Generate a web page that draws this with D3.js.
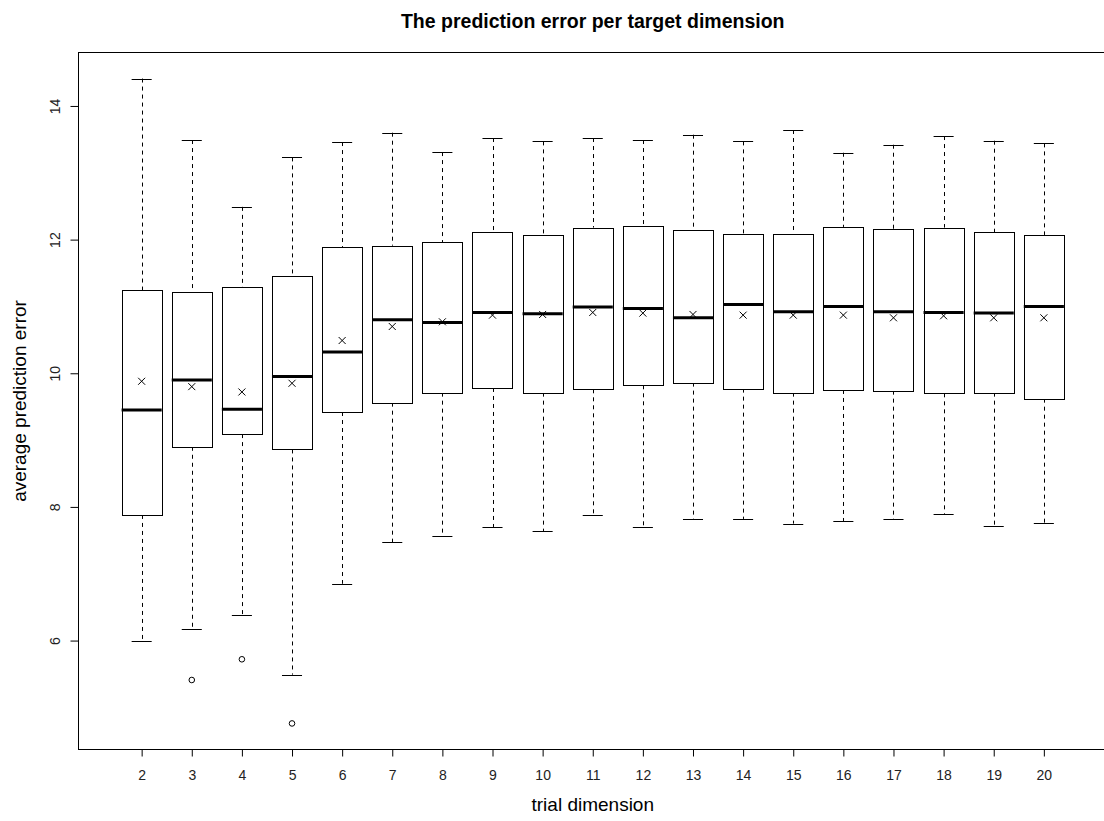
<!DOCTYPE html>
<html>
<head>
<meta charset="utf-8">
<title>The prediction error per target dimension</title>
<script src="https://cdn.jsdelivr.net/npm/d3@7"></script>
<style>
    body { margin: 0; background: #fff; }
    text { font-family: "Liberation Sans", Arial, sans-serif; }
</style>
</head>
<body>
<svg id="chart"></svg>
<script>
'use strict';

var dims = [2, 3, 4, 5, 6, 7, 8, 9, 10, 11, 12, 13, 14, 15, 16, 17, 18, 19, 20];
var upperWhisker = [14.41, 13.49, 12.49, 13.23, 13.46, 13.60, 13.31, 13.52, 13.47, 13.52,
                    13.49, 13.57, 13.47, 13.64, 13.30, 13.42, 13.55, 13.48, 13.44];
var q3 = [11.24, 11.21, 11.29, 11.46, 11.89, 11.91, 11.96, 12.11, 12.07, 12.18,
          12.21, 12.14, 12.09, 12.09, 12.19, 12.16, 12.18, 12.11, 12.07];
var medians = [9.45, 9.90, 9.46, 9.95, 10.32, 10.80, 10.76, 10.91, 10.89, 10.99,
               10.97, 10.83, 11.03, 10.92, 11.00, 10.92, 10.91, 10.90, 11.00];
var means = [9.88, 9.80, 9.72, 9.85, 10.49, 10.70, 10.77, 10.87, 10.88, 10.91,
             10.90, 10.88, 10.87, 10.87, 10.87, 10.83, 10.86, 10.83, 10.83];
var q1 = [7.88, 8.90, 9.09, 8.86, 9.42, 9.56, 9.71, 9.78, 9.71, 9.76,
          9.82, 9.86, 9.77, 9.71, 9.75, 9.74, 9.70, 9.71, 9.62];
var lowerWhisker = [6.00, 6.17, 6.39, 5.49, 6.85, 7.47, 7.56, 7.70, 7.64, 7.88,
                    7.70, 7.82, 7.82, 7.75, 7.79, 7.82, 7.89, 7.72, 7.76];
var outlierDims = [3, 4, 5];
var outlierValues = [5.41, 5.72, 4.76];
var yTicks = [6, 8, 10, 12, 14];

var width = 1104;
var height = 821;
var plotLeft = 78.5, plotTop = 52.5, plotBottom = 749.5, plotRight = 1107;

var svg = d3.select("#chart")
        .attr("width", width)
        .attr("height", height);

// index positions like R's boxplot: 1..n, xlim extended by 4%
var n = dims.length;
var pad = n * 0.04;
var x = d3.scaleLinear()
        .domain([0.5 - pad, n + 0.5 + pad])
        .range([plotLeft, plotRight]);
var y = d3.scaleLinear()
        .domain([4.37, 14.80])
        .range([plotBottom, plotTop]);

var step = x(2) - x(1);
var boxW = step * 0.8;
var capW = boxW / 2;

var data = dims.map(function(d, i) {
    return {dim: d, pos: i + 1, lo: lowerWhisker[i], q1: q1[i], med: medians[i],
            q3: q3[i], hi: upperWhisker[i], mean: means[i]};
});

var g = svg.selectAll("g.box")
        .data(data)
        .enter().append("g")
        .attr("class", "box");

// whiskers
g.append("line")
    .attr("x1", function(d) { return Math.round(x(d.pos)) + 0.5; })
    .attr("x2", function(d) { return Math.round(x(d.pos)) + 0.5; })
    .attr("y1", function(d) { return y(d.hi); })
    .attr("y2", function(d) { return y(d.q3); })
    .attr("stroke", "#000")
    .attr("stroke-dasharray", "4,4");
g.append("line")
    .attr("x1", function(d) { return Math.round(x(d.pos)) + 0.5; })
    .attr("x2", function(d) { return Math.round(x(d.pos)) + 0.5; })
    .attr("y1", function(d) { return y(d.q1); })
    .attr("y2", function(d) { return y(d.lo); })
    .attr("stroke", "#000")
    .attr("stroke-dasharray", "4,4");

// staples
["hi", "lo"].forEach(function(k) {
    g.append("line")
        .attr("x1", function(d) { return x(d.pos) - capW / 2; })
        .attr("x2", function(d) { return x(d.pos) + capW / 2; })
        .attr("y1", function(d) { return Math.round(y(d[k])) + 0.5; })
        .attr("y2", function(d) { return Math.round(y(d[k])) + 0.5; })
        .attr("stroke", "#000");
});

g.append("rect")
    .attr("x", function(d) { return Math.round(x(d.pos) - boxW / 2) + 0.5; })
    .attr("y", function(d) { return Math.round(y(d.q3)) + 0.5; })
    .attr("width", Math.round(boxW))
    .attr("height", function(d) { return Math.round(y(d.q1)) - Math.round(y(d.q3)); })
    .attr("fill", "#fff")
    .attr("stroke", "#000");

g.append("line")
    .attr("x1", function(d) { return x(d.pos) - boxW / 2; })
    .attr("x2", function(d) { return x(d.pos) + boxW / 2; })
    .attr("y1", function(d) { return y(d.med); })
    .attr("y2", function(d) { return y(d.med); })
    .attr("stroke", "#000")
    .attr("stroke-width", 3);

// mean markers (x)
var m = 3.5;
g.append("path")
    .attr("d", function(d) {
        var cx = x(d.pos), cy = y(d.mean);
        return "M" + (cx - m) + "," + (cy - m) + "L" + (cx + m) + "," + (cy + m) +
               "M" + (cx - m) + "," + (cy + m) + "L" + (cx + m) + "," + (cy - m);
    })
    .attr("stroke", "#000")
    .attr("fill", "none");

// outliers
svg.selectAll("circle.out")
    .data(outlierDims)
    .enter().append("circle")
    .attr("class", "out")
    .attr("cx", function(d) { return x(dims.indexOf(d) + 1); })
    .attr("cy", function(d, i) { return y(outlierValues[i]); })
    .attr("r", 2.8)
    .attr("fill", "none")
    .attr("stroke", "#000");

// frame
svg.append("rect")
    .attr("x", plotLeft)
    .attr("y", plotTop)
    .attr("width", plotRight - plotLeft)
    .attr("height", plotBottom - plotTop)
    .attr("fill", "none")
    .attr("stroke", "#000");

// x axis
var xAxis = d3.axisBottom(x)
        .tickValues(d3.range(1, n + 1))
        .tickFormat(function(d) { return dims[d - 1]; })
        .tickSize(7)
        .tickPadding(14);
var xg = svg.append("g")
        .attr("transform", "translate(0," + plotBottom + ")")
        .call(xAxis);
xg.select(".domain").remove();
xg.selectAll("text").style("font-size", "14px").attr("fill", "#222")
    .style("font-family", "'Liberation Sans', Arial, sans-serif");

// y axis, labels vertical like R
var yAxis = d3.axisLeft(y)
        .tickValues(yTicks)
        .tickSize(8)
        .tickPadding(0);
var yg = svg.append("g")
        .attr("transform", "translate(" + plotLeft + ",0)")
        .call(yAxis);
yg.select(".domain").remove();
yg.selectAll("text")
    .attr("x", null).attr("dy", null)
    .attr("text-anchor", "middle")
    .attr("transform", "translate(-19,0) rotate(-90)")
    .style("font-size", "14px").attr("fill", "#222")
    .style("font-family", "'Liberation Sans', Arial, sans-serif");

svg.append("text")
    .attr("x", (plotLeft + plotRight) / 2)
    .attr("y", 28)
    .attr("text-anchor", "middle")
    .style("font-size", "19.5px")
    .style("font-weight", "bold")
    .text("The prediction error per target dimension");

svg.append("text")
    .attr("x", (plotLeft + plotRight) / 2)
    .attr("y", 811)
    .attr("text-anchor", "middle")
    .style("font-size", "19px")
    .text("trial dimension");

svg.append("text")
    .attr("transform", "translate(26," + (plotTop + plotBottom) / 2 + ") rotate(-90)")
    .attr("text-anchor", "middle")
    .style("font-size", "19px")
    .text("average prediction error");
</script>
</body>
</html>
